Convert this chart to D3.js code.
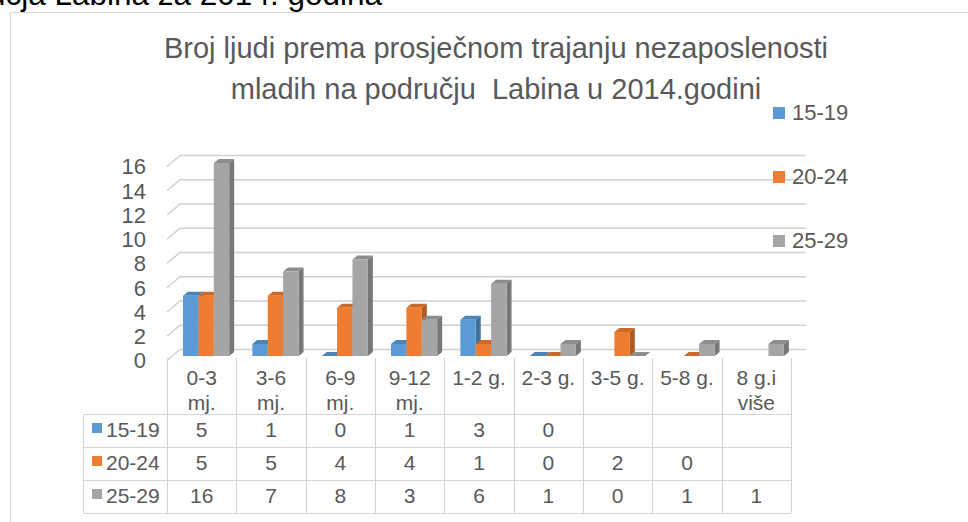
<!DOCTYPE html>
<html lang="hr">
<head>
<meta charset="UTF-8">
<title>Nezaposlenost mladih - Labin 2014</title>
<script src="https://d3js.org/d3.v7.min.js"></script>
<style>
  body { margin: 0; background: #fff; }
  svg text { font-family: "Liberation Sans", Arial, sans-serif; fill: #595959; }
</style>
</head>
<body>
<svg id="chart" width="968" height="522"></svg>
<script>
// data
var categories = ["0-3 mj.", "3-6 mj.", "6-9 mj.", "9-12 mj.", "1-2 g.", "2-3 g.", "3-5 g.", "5-8 g.", "8 g.i više"];
var seriesNames = ["15-19", "20-24", "25-29"];
var values1519 = [5, 1, 0, 1, 3, 0, null, null, null];
var values2024 = [5, 5, 4, 4, 1, 0, 2, 0, null];
var values2529 = [16, 7, 8, 3, 6, 1, 0, 1, 1];
var yTicks = [0, 2, 4, 6, 8, 10, 12, 14, 16];
var colors = ["#5b9bd5", "#ed7d31", "#a5a5a5"];

var series = [values1519, values2024, values2529];

var svg = d3.select("#chart");

// frame of the chart object and the cut heading above it
svg.append("text")
    .attr("x", 382).attr("y", 4.5)
    .attr("text-anchor", "end")
    .style("font-size", "31.5px")
    .style("fill", "#000")
    .text("područja Labina za 2014. godina");

svg.append("path")
    .attr("d", "M10.5,522V12.5H968")
    .attr("fill", "none")
    .attr("stroke", "#d9d9d9");

// title
var title = svg.append("text")
    .attr("text-anchor", "middle")
    .style("font-size", "29px")
    .style("white-space", "pre");
title.append("tspan").attr("x", 496).attr("y", 58).text("Broj ljudi prema prosječnom trajanju nezaposlenosti");
title.append("tspan").attr("x", 496).attr("y", 99).text("mladih na području  Labina u 2014.godini");

// scales
var x = d3.scaleBand().domain(categories).range([167, 791]);
var yFront = d3.scaleLinear().domain([0, 16]).range([356, 163]);
var yBack = d3.scaleLinear().domain([0, 16]).range([349.5, 155.5]);

var wallDx = 13, wallDy = 11;  // depth of the floor / side wall
var barDx = 5, barDy = 4;      // depth of a bar
var barW = 15.4, barOffset = 16;

// gridlines with the slanted wall part
var grid = svg.append("g").attr("fill", "none").attr("stroke", "#d0d0d0").attr("stroke-width", 1.5);
yTicks.forEach(function (t) {
    var yb = yBack(t);
    grid.append("path")
        .attr("d", "M" + (x.range()[0]) + "," + (yb + wallDy) + "L" + (x.range()[0] + wallDx) + "," + yb + "H806");
});

// y tick labels
svg.append("g").selectAll("text")
    .data(yTicks)
    .join("text")
    .attr("x", 146)
    .attr("y", function (d) { return yBack(d) + wallDy; })
    .attr("dy", "0.36em")
    .attr("text-anchor", "end")
    .style("font-size", "22px")
    .text(function (d) { return d; });

// 3d bars
var bars = svg.append("g");
categories.forEach(function (cat, ci) {
    series.forEach(function (vals, si) {
        var v = vals[ci];
        if (v === null) return;
        var x0 = x(cat) + barOffset + si * barW;
        var x1 = x0 + barW;
        var yT = yFront(v), yB = yFront(0);
        var c = d3.color(colors[si]);
        var g = bars.append("g");
        // top face
        g.append("path")
            .attr("d", "M" + x0 + "," + yT + "L" + (x0 + barDx) + "," + (yT - barDy) +
                "L" + (x1 + barDx) + "," + (yT - barDy) + "L" + x1 + "," + yT + "Z")
            .attr("fill", c.darker(0.45));
        if (v > 0) {
            // side face
            g.append("path")
                .attr("d", "M" + x1 + "," + yT + "L" + (x1 + barDx) + "," + (yT - barDy) +
                    "L" + (x1 + barDx) + "," + (yB - barDy) + "L" + x1 + "," + yB + "Z")
                .attr("fill", c.darker(0.9));
            // front face
            g.append("rect")
                .attr("x", x0).attr("y", yT)
                .attr("width", barW).attr("height", yB - yT)
                .attr("fill", c);
        }
    });
});

// legend
var legend = svg.append("g");
seriesNames.forEach(function (name, i) {
    var yb = 120 + i * 64;
    legend.append("rect")
        .attr("x", 773).attr("y", yb - 13)
        .attr("width", 12).attr("height", 12)
        .attr("fill", colors[i]);
    legend.append("text")
        .attr("x", 792).attr("y", yb)
        .style("font-size", "22px")
        .text(name);
});

// data table
var table = svg.append("g");
var rowTop = 414, rowH = 33, labelLeft = 83;
var tableLines = table.append("g").attr("stroke", "#d4d4d4").attr("fill", "none");
var xLeft = x.range()[0], xRight = x.range()[1];

for (var r = 0; r <= series.length; r++) {
    tableLines.append("line")
        .attr("x1", labelLeft).attr("x2", xRight)
        .attr("y1", rowTop + r * rowH + 0.5).attr("y2", rowTop + r * rowH + 0.5);
}
tableLines.append("line")
    .attr("x1", labelLeft + 0.5).attr("x2", labelLeft + 0.5)
    .attr("y1", rowTop).attr("y2", rowTop + series.length * rowH);
categories.concat([null]).forEach(function (cat, i) {
    var xx = Math.round(xLeft + i * x.bandwidth()) + 0.5;
    tableLines.append("line")
        .attr("x1", xx).attr("x2", xx)
        .attr("y1", 358).attr("y2", rowTop + series.length * rowH);
});

// category labels, wrapped like in the original
categories.forEach(function (cat) {
    var t = table.append("text")
        .attr("text-anchor", "middle")
        .style("font-size", "21px");
    var cx = x(cat) + x.bandwidth() / 2;
    var words = cat.split(" ");
    var lines = [];
    var line = "";
    words.forEach(function (w) {
        var test = line ? line + " " + w : w;
        var probe = t.append("tspan").text(test);
        var wdt = probe.node().getComputedTextLength();
        probe.remove();
        if (wdt > x.bandwidth() - 10 && line) {
            lines.push(line);
            line = w;
        } else {
            line = test;
        }
    });
    lines.push(line);
    lines.forEach(function (l, li) {
        t.append("tspan").attr("x", cx).attr("y", 385 + li * 25).text(l);
    });
});

// rows
seriesNames.forEach(function (name, si) {
    var base = rowTop + si * rowH + 23;
    table.append("rect")
        .attr("x", 92).attr("y", base - 14)
        .attr("width", 10).attr("height", 10)
        .attr("fill", colors[si]);
    table.append("text")
        .attr("x", 106).attr("y", base)
        .style("font-size", "21px")
        .text(name);
    series[si].forEach(function (v, ci) {
        if (v === null) return;
        table.append("text")
            .attr("x", x(categories[ci]) + x.bandwidth() / 2)
            .attr("y", base)
            .attr("text-anchor", "middle")
            .style("font-size", "21px")
            .text(v);
    });
});
</script>
</body>
</html>
